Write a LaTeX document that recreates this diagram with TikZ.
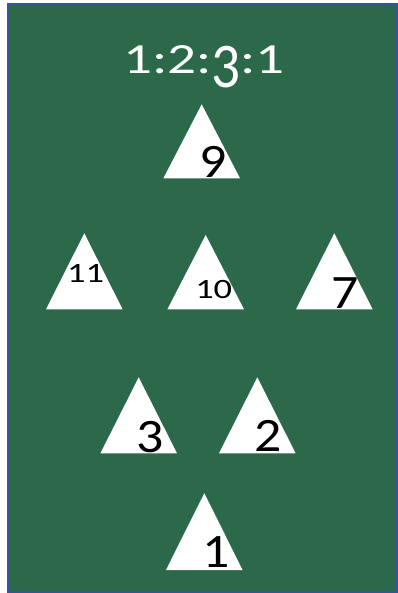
\documentclass[tikz,border=0pt]{standalone}
\usepackage{fontspec}
\setmainfont{Carlito}
\definecolor{bggreen}{RGB}{44,104,74}
\definecolor{bdblue}{RGB}{52,85,150}
\begin{document}
\begin{tikzpicture}[x=1pt,y=-1pt,
  tri/.style={fill=white,draw=none},
  lbl/.style={inner sep=0pt,anchor=base,text=black},
  big/.style={lbl,font=\fontsize{48}{48}\selectfont},
  small/.style={lbl,font=\fontsize{28}{28}\selectfont}]
\useasboundingbox (0,0) rectangle (398,593);
\fill[white] (0,0) rectangle (398,593);
\draw[fill=bggreen,draw=bdblue,line width=2pt] (8,4.5) rectangle (397,592);
\newcommand{\tri}[3]{\fill[tri] (#1,#2) -- (#1-38.3,#3) -- (#1+38.3,#3) -- cycle;}
\newcommand{\bigd}[1]{\scalebox{1.12}[1]{#1}}
\newcommand{\smalld}[1]{\scalebox{1.3}[1]{#1}}
\tri{201.7}{104.3}{178.3}
\tri{84.3}{233.3}{309.3}
\tri{205.7}{235}{309.3}
\tri{334.3}{233.3}{309.3}
\tri{138.7}{377.3}{453.3}
\tri{257.3}{377.3}{453.3}
\tri{204.3}{493.3}{570}
\node[lbl,text=white,font=\fontsize{43}{43}\selectfont] (title) at (204,73.5) {\scalebox{1.33}[1]{1:2:\raisebox{-14pt}{\scalebox{1}[1.48]{3}}:1}};
\node[big] (n9) at (213,177.5) {\bigd{9}};
\node[small] (n11) at (85.5,282) {\smalld{11}};
\node[small] (n10) at (213.7,298.3) {\smalld{10}};
\node[big] (n7) at (345,308) {\bigd{7}};
\node[big] (n3) at (149.7,452.3) {\bigd{3}};
\node[big] (n2) at (268.3,451.7) {\bigd{2}};
\node[big] (n1) at (216,567.7) {\bigd{1}};
\end{tikzpicture}
\end{document}
